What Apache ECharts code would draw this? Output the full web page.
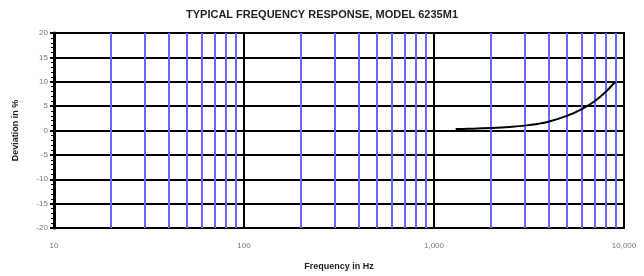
<!DOCTYPE html>
<html>
<head>
<meta charset="utf-8">
<script src="https://cdn.jsdelivr.net/npm/echarts@6/dist/echarts.min.js"></script>
<style>
  html, body { margin: 0; padding: 0; background: #fff; }
  #chart { width: 644px; height: 276px; }
</style>
</head>
<body>
<div id="chart"></div>
<script>
// frequency response curve
var freq = [1300, 1500, 2000, 2500, 3000, 3500, 4000, 5000, 6000, 7000, 8000, 9000];
var deviation = [0.3, 0.35, 0.5, 0.7, 1.0, 1.35, 1.8, 3.0, 4.4, 6.0, 7.9, 10];
// blue grid lines inside each decade
var minorFreqs = [20, 30, 40, 50, 60, 70, 80, 90,
                  200, 300, 400, 500, 600, 700, 800, 900,
                  2000, 3000, 4000, 5000, 6000, 7000, 8000, 9000];
var tickFreqs = [10, 100, 1000, 10000].concat(minorFreqs);

var chart = echarts.init(document.getElementById('chart'));
var font = 'Liberation Sans Narrow, Arial, sans-serif';

var option = {
    animation: false,
    title: {
        text: 'TYPICAL FREQUENCY RESPONSE, MODEL 6235M1',
        left: 'center',
        top: 4,
        textStyle: { fontFamily: font, fontSize: 11, fontWeight: 'bold', color: '#222' }
    },
    grid: {
        left: 54, right: 20, top: 33, bottom: 45,
        show: true, borderColor: '#000', borderWidth: 2
    },
    xAxis: {
        type: 'log',
        logBase: 10,
        min: 10,
        max: 10000,
        name: 'Frequency in Hz',
        nameLocation: 'middle',
        nameGap: 34,
        nameTextStyle: { fontFamily: font, fontSize: 9, fontWeight: 'bold', color: '#222' },
        axisLine: { lineStyle: { color: '#000', width: 2 } },
        axisTick: { show: true, length: 3, customValues: tickFreqs, lineStyle: { color: '#000', width: 2 } },
        axisLabel: {
            fontFamily: 'Arial, sans-serif', fontSize: 8, color: '#777', margin: 14,
            formatter: function (v) { return Number(v).toLocaleString('en-US'); }
        },
        splitLine: { show: true, lineStyle: { color: '#000', width: 2 } },
        minorTick: { show: false },
        minorSplitLine: { show: false }
    },
    yAxis: {
        type: 'value',
        min: -20,
        max: 20,
        interval: 5,
        name: 'Deviation in %',
        nameLocation: 'middle',
        nameGap: 34,
        nameTextStyle: { fontFamily: font, fontSize: 9, fontWeight: 'bold', color: '#222' },
        axisLine: { show: true, lineStyle: { color: '#000', width: 3 } },
        axisTick: { show: true, length: 4, lineStyle: { color: '#000', width: 2 } },
        minorTick: { show: true, splitNumber: 5, length: 3, lineStyle: { color: '#000', width: 1 } },
        axisLabel: { fontFamily: 'Arial, sans-serif', fontSize: 8, color: '#777', margin: 6 },
        splitLine: { show: true, lineStyle: { color: '#000', width: 2 } }
    },
    series: [
        {
            type: 'line',
            data: freq.map(function (f, i) { return [f, deviation[i]]; }),
            smooth: 0.4,
            symbol: 'none',
            lineStyle: { color: '#000', width: 2 },
            z: 5,
            markLine: {
                silent: true,
                symbol: 'none',
                label: { show: false },
                lineStyle: { color: '#6868ff', width: 2, type: 'solid' },
                data: minorFreqs.map(function (f) { return { xAxis: f }; })
            }
        }
    ]
};
chart.setOption(option);
</script>
</body>
</html>
